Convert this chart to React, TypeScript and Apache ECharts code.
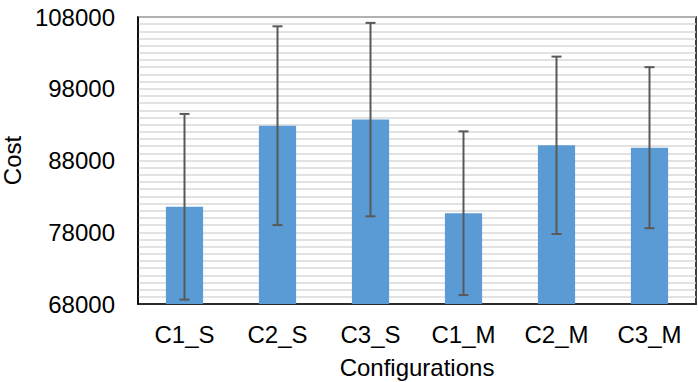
import React, { useEffect, useRef } from "react";
import * as echarts from "echarts";

const categories = ["C1_S", "C2_S", "C3_S", "C1_M", "C2_M", "C3_M"];
const meanCost = [81550, 92850, 93700, 80650, 90120, 89790];
const errorCost = [12940, 13850, 13480, 11410, 12360, 11220];

const FONT = "'Liberation Sans', Arial, sans-serif";

export default function App() {
  const ref = useRef<HTMLDivElement>(null);
  useEffect(() => {
    if (!ref.current) return;
    const chart = echarts.init(ref.current, null, { renderer: "svg" });
    const errData = categories.map((_, i) => [i, meanCost[i] - errorCost[i], meanCost[i] + errorCost[i]]);
    chart.setOption({
      animation: false,
      grid: {
        left: 138,
        right: 2,
        top: 17,
        bottom: 78,
        containLabel: false,
        outerBoundsMode: "none",
        show: true,
        borderColor: "#000",
        borderWidth: 1.5,
        backgroundColor: "transparent",
      },
      xAxis: {
        type: "category",
        data: categories,
        name: "Configurations",
        nameLocation: "middle",
        nameGap: 51,
        nameTextStyle: { fontSize: 24, color: "#000", fontFamily: FONT },
        axisLine: { show: true, lineStyle: { color: "#000", width: 1.5 } },
        axisTick: { show: false },
        axisLabel: { fontSize: 24, color: "#000", fontFamily: FONT, margin: 18 },
      },
      yAxis: {
        type: "value",
        min: 68000,
        max: 108000,
        interval: 10000,
        name: "Cost",
        nameLocation: "middle",
        nameGap: 109,
        nameTextStyle: { fontSize: 24, color: "#000", fontFamily: FONT },
        axisLine: { show: true, lineStyle: { color: "#000", width: 1.5 } },
        axisTick: { show: false },
        axisLabel: {
          fontSize: 24,
          color: "#000",
          fontFamily: FONT,
          margin: 23,
          formatter: (v: number) => String(v),
        },
        splitLine: { show: true, lineStyle: { color: "#d9d9d9", width: 1.5 } },
        minorTick: { show: false, splitNumber: 10 },
        minorSplitLine: { show: true, lineStyle: { color: "#d9d9d9", width: 1.5 } },
      },
      series: [
        {
          type: "bar",
          data: meanCost,
          barWidth: "40%",
          itemStyle: { color: "#5b9bd5" },
        },
        {
          type: "custom",
          data: errData,
          z: 10,
          renderItem: (params: any, api: any) => {
            const x = api.value(0);
            const lo = api.coord([x, api.value(1)]);
            const hi = api.coord([x, api.value(2)]);
            const half = 5;
            const style = { stroke: "#595959", lineWidth: 2 };
            return {
              type: "group",
              children: [
                { type: "line", shape: { x1: hi[0], y1: hi[1], x2: lo[0], y2: lo[1] }, style },
                { type: "line", shape: { x1: hi[0] - half, y1: hi[1], x2: hi[0] + half, y2: hi[1] }, style },
                { type: "line", shape: { x1: lo[0] - half, y1: lo[1], x2: lo[0] + half, y2: lo[1] }, style },
              ],
            };
          },
        },
      ],
    });
    return () => chart.dispose();
  }, []);
  return <div ref={ref} style={{ width: 698, height: 382, position: "absolute", left: 0, top: 0 }} />;
}
